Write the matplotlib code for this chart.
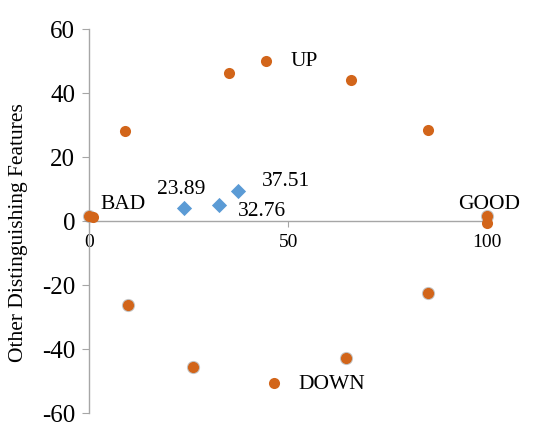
import matplotlib.pyplot as plt

plt.rcParams['font.family'] = ['Liberation Serif', 'DejaVu Serif']
plt.rcParams['axes.unicode_minus'] = False

# orange ring of points
ring_x = [0, 1, 9.0, 35.2, 44.5, 65.8, 85.2, 100, 100, 85.2, 64.6, 46.5, 26.1, 9.8]
ring_y = [1.5, 1.2, 28.1, 46.2, 50.0, 44.0, 28.4, 1.5, -0.5, -22.5, -42.8, -50.6, -45.6, -26.2]
# points drawn with a grey shadow
shadow_x = [0, 100, 85.2, 64.6, 26.1, 9.8]
shadow_y = [1.5, 1.5, -22.5, -42.8, -45.6, -26.2]

# blue diamonds
dia_x = [23.89, 32.76, 37.51]
dia_y = [4.1, 5.0, 9.4]
dia_labels = ['23.89', '32.76', '37.51']
dia_lab_pos = [(17.0, 10.0), (37.4, 3.0), (43.5, 12.5)]

names = ['BAD', 'GOOD', 'UP', 'DOWN']
name_pos = [(2.8, 5.3), (92.7, 5.3), (50.5, 50.0), (52.5, -51.0)]

orange = '#D2651A'
blue = '#5B9BD5'
grey = '#A6A6A6'

fig = plt.figure(figsize=(5.6, 4.28), dpi=100)
ax = fig.add_axes([0.159, 0.035, 0.711, 0.897])

ax.scatter(shadow_x, shadow_y, s=90, color='#8C8C8C', alpha=0.5, zorder=2, clip_on=False, linewidths=0)
ax.scatter(ring_x, ring_y, s=64, color=orange, zorder=3, clip_on=False, linewidths=0)
ax.scatter(dia_x, dia_y, s=60, marker='D', color=blue, zorder=3, linewidths=0)

for lab, (tx, ty) in zip(dia_labels, dia_lab_pos):
    ax.text(tx, ty, lab, fontsize=15.5, ha='left', va='center')
for lab, (tx, ty) in zip(names, name_pos):
    ax.text(tx, ty, lab, fontsize=15.5, ha='left', va='center')

ax.set_xlim(0, 100)
ax.set_ylim(-60, 60)
ax.set_yticks(range(-60, 61, 20))
ax.set_xticks([0, 50, 100])

ax.spines['top'].set_visible(False)
ax.spines['right'].set_visible(False)
ax.spines['bottom'].set_position(('data', 0))
for s in ['left', 'bottom']:
    ax.spines[s].set_color(grey)
    ax.spines[s].set_linewidth(1.0)

ax.tick_params(axis='y', labelsize=18, color=grey, length=5, direction='out', pad=5)
ax.tick_params(axis='x', labelsize=14, color=grey, length=4, direction='out', pad=5)

ax.set_ylabel('Other Distinguishing Features', fontsize=15.5)
ax.yaxis.set_label_coords(-0.153, 0.47)

fig.savefig('out.png', dpi=100)
